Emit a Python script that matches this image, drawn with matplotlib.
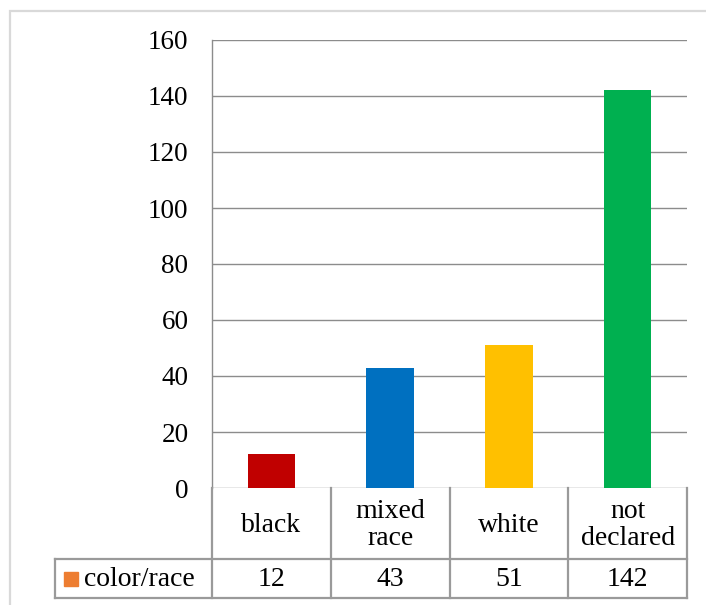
import matplotlib.pyplot as plt
from matplotlib.patches import Rectangle

categories = ['black', 'mixed\nrace', 'white', 'not\ndeclared']
values = [12, 43, 51, 142]
bar_colors = ['#C00000', '#0070C0', '#FFC000', '#00B050']
series_name = 'color/race'
series_color = '#ED7D31'
yticks = [0, 20, 40, 60, 80, 100, 120, 140, 160]

W, H = 706, 605
fig = plt.figure(figsize=(W / 100, H / 100), dpi=100)

# light outer chart border (runs off the right and bottom edges)
fig.patches.append(Rectangle((10 / W, -0.1), 1.2, 1.1 - 11 / H, transform=fig.transFigure,
                             fill=False, edgecolor='#D9D9D9', linewidth=1.6))

grid_c = '#8C8C8C'
# plot area in pixels: x 212..687, y 40..488
ax = fig.add_axes([212 / W, 1 - 488 / H, 475 / W, 448 / H])
x = range(len(values))
ax.bar(x, values, width=0.4, color=bar_colors, zorder=3)
ax.set_xlim(-0.5, len(values) - 0.5)
ax.set_ylim(0, 160)
ax.set_yticks(yticks)
ax.set_yticklabels([str(v) for v in yticks], family='Liberation Serif', fontsize=19.5)
ax.tick_params(axis='y', length=0, pad=17)
ax.set_xticks([])
ax.yaxis.grid(True, color=grid_c, linewidth=1)
for s in ['top', 'right', 'bottom']:
    ax.spines[s].set_visible(False)
ax.spines['left'].set_color(grid_c)
ax.spines['left'].set_linewidth(1)

# data table below, same x units as the plot
unit = 475 / len(values)
left_u = -0.5 - (212 - 55) / unit
tx = fig.add_axes([55 / W, 1 - 598 / H, (687 - 55) / W, 110 / H])
tx.set_xlim(left_u, len(values) - 0.5)
tx.set_ylim(110, 0)
tx.axis('off')
tc = '#9A9A9A'
lw = 1.6
tx.plot([left_u, len(values) - 0.5], [71, 71], color=tc, lw=lw, clip_on=False)
tx.plot([left_u, len(values) - 0.5], [110, 110], color=tc, lw=lw, clip_on=False)
tx.plot([left_u, left_u], [71, 110], color=tc, lw=lw, clip_on=False)
for i in range(len(values) + 1):
    tx.plot([i - 0.5, i - 0.5], [0, 110], color=tc, lw=lw, clip_on=False)
for i, (c, v) in enumerate(zip(categories, values)):
    tx.text(i, 37, c, ha='center', va='center', family='Liberation Serif',
            fontsize=20, linespacing=1.15)
    tx.text(i, 91, str(v), ha='center', va='center', family='Liberation Serif', fontsize=20)
tx.add_patch(Rectangle((left_u + 9 / unit, 84), 14 / unit, 14, color=series_color, clip_on=False))
tx.text(left_u + 29 / unit, 91, series_name, ha='left', va='center',
        family='Liberation Serif', fontsize=20)

fig.savefig('out.png', dpi=100)
